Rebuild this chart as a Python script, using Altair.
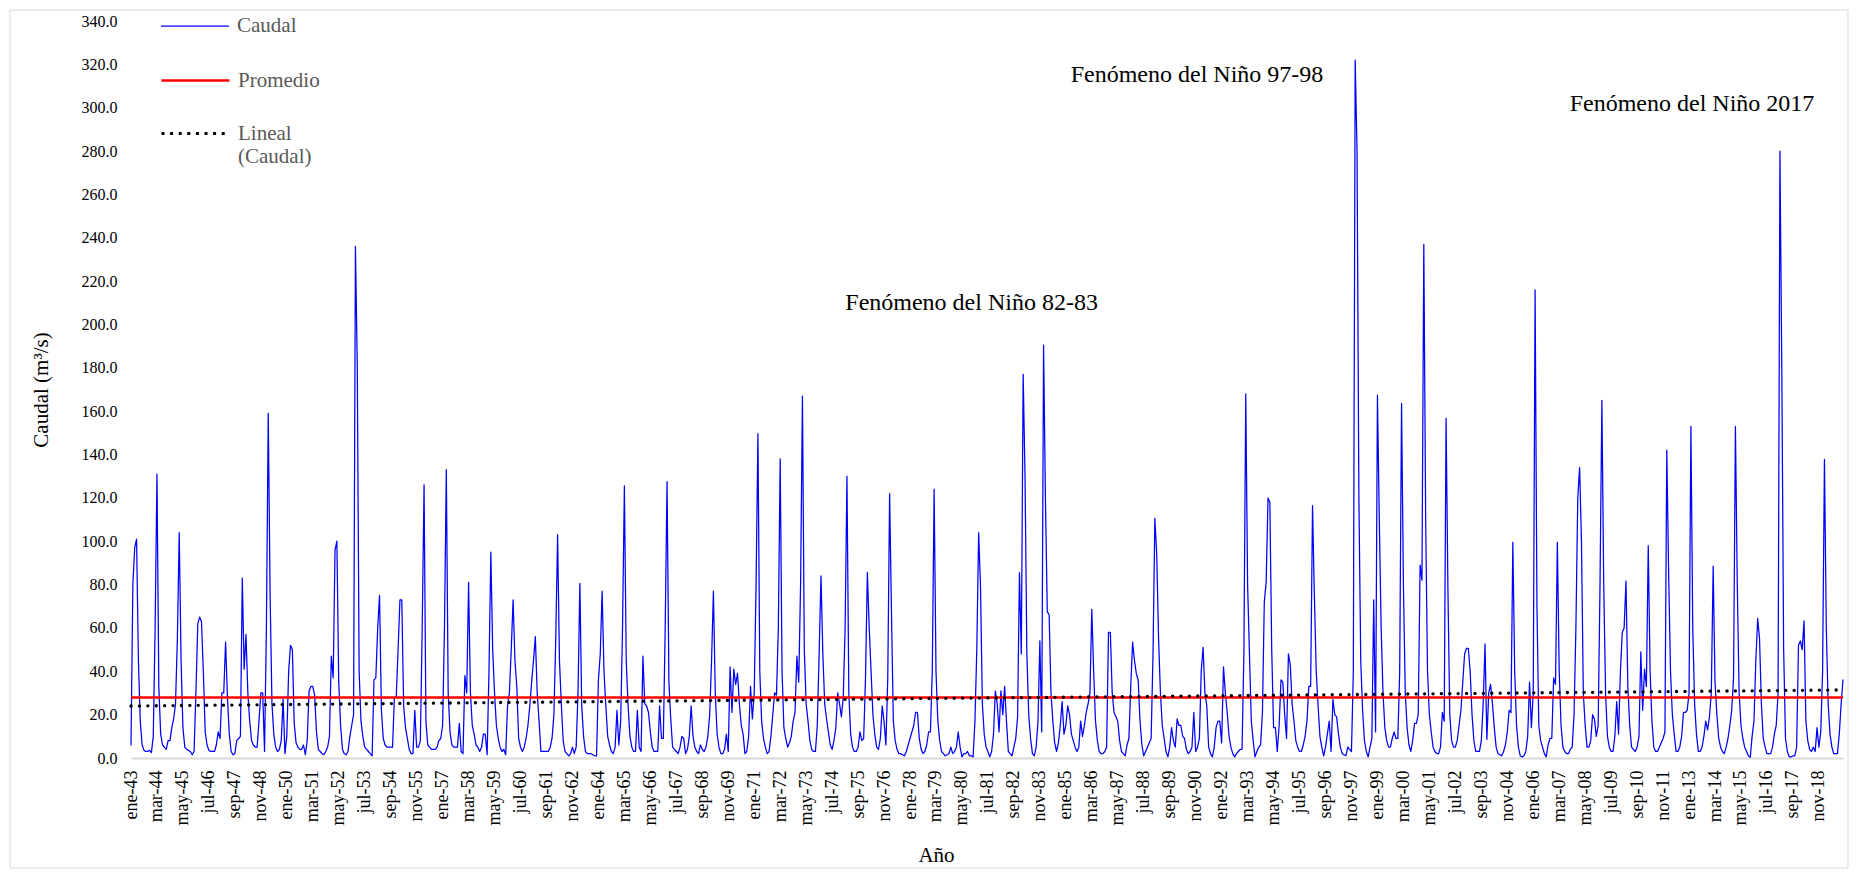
import altair as alt
import pandas as pd

# Caudal mensual (m3/s), un arreglo por año (ene ... dic)
y1943 = [6, 80, 97, 101, 45, 17, 6, 3.5, 3, 3, 3.5, 2.5]
y1944 = [10, 60, 131, 33, 11, 6, 5, 4, 8, 8, 14, 18]
y1945 = [25, 55, 104, 45, 14, 5, 4, 3.5, 3, 1.5, 3, 30]
y1946 = [62, 65, 63, 40, 12, 6, 3.5, 3, 3, 3, 6, 12]
y1947 = [9, 30, 30, 53.5, 28, 11, 3, 1.5, 2, 8, 9, 10]
y1948 = [83, 41, 57, 30, 17, 8, 6, 5, 5, 17, 30, 30]
y1949 = [3, 60, 159, 75, 25, 11, 5, 3, 4, 8, 27, 2]
y1950 = [10, 40, 52, 50, 16, 7, 5, 4, 4, 6, 1.5, 8]
y1951 = [31, 33, 33, 29, 12, 4, 3, 2, 1.5, 3, 5, 10]
y1952 = [47, 37, 96, 100, 35, 15, 4, 2, 1.5, 3, 10, 15]
y1953 = [20, 236, 180, 40, 17, 10, 5, 4, 3, 2, 1, 36]
y1954 = [37, 60, 75, 22, 9, 6, 5, 5, 5, 5, 28, 28]
y1955 = [50, 73, 73, 24, 14, 9, 4, 2, 2, 22, 5, 5]
y1956 = [8, 60, 126, 17, 6, 5, 4, 4, 4, 5, 8, 9]
y1957 = [15, 60, 133, 30, 12, 6, 5, 5, 5, 16, 3, 2]
y1958 = [38, 30, 81, 30, 15, 11, 6, 5, 3, 5, 11, 11]
y1959 = [1.5, 40, 95, 50, 30, 15, 9, 5, 3, 4, 1.5, 24]
y1960 = [30, 50, 73, 45, 33, 9, 5, 3, 5, 9, 15, 24]
y1961 = [35, 45, 56, 30, 17, 3, 3, 3, 3, 3, 5, 9]
y1962 = [20, 55, 103, 45, 25, 8, 3, 2, 1, 2, 5, 2]
y1963 = [5, 30, 80.6, 24, 10, 3, 2, 2, 2, 1.5, 1, 1]
y1964 = [36, 48, 77, 40, 24, 10, 6, 3, 2, 5, 22, 6]
y1965 = [17, 60, 125.5, 45, 24, 10, 5, 3, 3, 22, 5, 3]
y1966 = [47, 25, 24, 21, 12, 5, 3, 3, 3, 24, 9, 9]
y1967 = [60, 127.5, 35, 18, 5, 4, 3, 2, 5, 10, 9, 2]
y1968 = [4, 10, 24, 10, 5, 3, 2, 6, 4, 3, 5, 10]
y1969 = [20, 45, 77, 30, 11, 5, 2, 2, 4, 11, 3, 42]
y1970 = [21, 41, 34, 39, 25, 15, 11, 2, 3, 10, 33, 18]
y1971 = [30, 80, 149.7, 40, 17, 9, 5, 2, 3, 10, 20, 30]
y1972 = [29, 60, 138, 40, 14, 9, 5, 7, 10, 17, 21, 47]
y1973 = [35, 80, 167, 50, 25, 17, 8, 4, 3, 3, 15, 48]
y1974 = [84, 48, 25, 18, 12, 6, 4, 8, 14, 30, 25, 19]
y1975 = [28, 60, 130, 30, 11, 5, 3, 3, 5, 12, 8, 9]
y1976 = [37, 85.6, 60, 40, 20, 11, 5, 4, 9, 24, 17, 6]
y1977 = [37, 122, 67, 17, 8, 4, 2, 2, 1.5, 1, 3, 6]
y1978 = [9, 12, 15, 21, 21, 9, 4, 2, 3, 6, 12, 12]
y1979 = [40, 124, 40, 17, 8, 3, 2, 1, 1.5, 2, 5, 2]
y1980 = [3, 5, 12, 5, 0.5, 2, 2, 3, 1, 1, 0.5, 17]
y1981 = [50, 104, 79, 25, 11, 5, 3, 0.5, 3, 11, 31, 25]
y1982 = [12, 31, 20, 33, 17, 3, 2, 1, 5, 9, 19, 85.5]
y1983 = [48, 177, 130, 48, 20, 9, 2, 1, 5, 17, 54, 12]
y1984 = [190.5, 120, 67.5, 66, 30, 17, 7, 3, 7, 15, 26, 11]
y1985 = [15, 24, 20, 11, 8, 5, 3, 5, 17, 10, 15, 21]
y1986 = [25, 30, 68.6, 40, 17, 8, 3, 2, 2, 3, 5, 58]
y1987 = [58, 30, 21, 19, 17, 8, 3, 2, 1, 6, 9, 33]
y1988 = [53.5, 45, 39, 36, 17, 6, 1, 3, 5, 7, 9, 48]
y1989 = [110.5, 94, 55, 30, 15, 9, 3, 0.5, 5, 14, 8, 5]
y1990 = [18, 15, 15, 10, 9, 4, 2, 3, 5, 21, 3, 5]
y1991 = [9, 40, 51, 30, 24, 5, 2, 0.5, 5, 14, 17, 17]
y1992 = [7, 42, 30, 21, 10, 5, 2, 0.5, 2, 3, 4, 4]
y1993 = [48, 168, 80, 48, 17, 8, 0.5, 3, 5, 6, 21, 72]
y1994 = [81, 120, 118, 50, 14, 14, 3, 15, 36, 35, 20, 9]
y1995 = [48, 43, 25, 17, 8, 5, 3, 3, 6, 10, 17, 33]
y1996 = [33, 116.4, 75, 40, 24, 10, 5, 1, 5, 11, 17, 3]
y1997 = [27, 20, 19, 11, 5, 2, 1.5, 1, 5, 4, 3, 40]
y1998 = [322, 280, 120, 45, 22, 8, 3, 0.5, 5, 9, 73, 12]
y1999 = [167.4, 110, 60, 30, 14, 8, 5, 5, 9, 12, 9, 9]
y2000 = [40, 163.6, 80, 30, 14, 6, 3, 8, 16, 16, 20, 89]
y2001 = [82, 237, 110, 40, 20, 12, 5, 3, 2, 2, 5, 21]
y2002 = [17, 156.7, 78, 20, 8, 5, 5, 8, 15, 22, 35, 48]
y2003 = [50.6, 50.6, 40, 20, 8, 3, 3, 3, 8, 25, 52.6, 8.6]
y2004 = [30, 34, 25, 14, 5, 2, 1.5, 1, 3, 6, 12, 22]
y2005 = [21, 99.5, 40, 15, 5, 1, 0.5, 1, 3, 10, 35, 14]
y2006 = [30, 216, 70, 15, 8, 5, 2, 0.5, 6, 9, 9, 37]
y2007 = [34, 99.5, 40, 15, 5, 3, 2, 2, 4, 5, 20, 60]
y2008 = [120, 134, 100, 30, 15, 5, 5, 8, 20, 18, 10, 15]
y2009 = [80, 165, 80, 30, 10, 5, 3, 3, 10, 26, 11, 40]
y2010 = [58, 60, 81.6, 33, 15, 5, 4, 3, 5, 10, 49, 22]
y2011 = [41, 33, 98, 40, 17, 5, 3, 3, 5, 7, 9, 12]
y2012 = [142, 85, 40, 20, 11, 3, 3, 5, 10, 21, 21, 22]
y2013 = [30, 153, 60, 25, 11, 3, 3, 5, 10, 17, 13, 19]
y2014 = [30, 88.5, 35, 20, 9, 5, 3, 2, 5, 9, 15, 22]
y2015 = [37, 153, 80, 30, 15, 9, 5, 3, 1, 0.3, 10, 17]
y2016 = [45, 64.4, 55, 25, 9, 5, 2, 2, 2, 5, 11, 15]
y2017 = [30, 280, 180, 50, 9, 3, 0.5, 0.5, 1, 1, 5, 52]
y2018 = [54, 50, 63.3, 17, 8, 4, 3, 5, 3, 14, 5, 12]
y2019 = [40, 137.8, 60, 25, 11, 5, 2, 2, 2, 11, 25, 36]

anios = [
    y1943, y1944, y1945, y1946, y1947, y1948, y1949, y1950, y1951, y1952,
    y1953, y1954, y1955, y1956, y1957, y1958, y1959, y1960, y1961, y1962,
    y1963, y1964, y1965, y1966, y1967, y1968, y1969, y1970, y1971, y1972,
    y1973, y1974, y1975, y1976, y1977, y1978, y1979, y1980, y1981, y1982,
    y1983, y1984, y1985, y1986, y1987, y1988, y1989, y1990, y1991, y1992,
    y1993, y1994, y1995, y1996, y1997, y1998, y1999, y2000, y2001, y2002,
    y2003, y2004, y2005, y2006, y2007, y2008, y2009, y2010, y2011, y2012,
    y2013, y2014, y2015, y2016, y2017, y2018, y2019,
]
anio_inicial = 1943

meses = ["ene", "feb", "mar", "abr", "may", "jun", "jul", "ago", "sep", "oct", "nov", "dic"]

# Promedio y recta de tendencia lineal
promedio = [27.9, 27.9]
lineal = [24.0, 31.4]

# Anotaciones
anot_texto = ["Fenómeno del Niño 82-83", "Fenómeno del Niño 97-98", "Fenómeno del Niño 2017"]
anot_mes = [453.2, 574.7, 841.6]
anot_valor = [209.7, 315.0, 301.6]

caudal = [v for anio in anios for v in anio]
n = len(caudal)
indice = list(range(n))

paso_etiqueta = 14
tick_pos = list(range(0, n, paso_etiqueta))
tick_labels = [f"{meses[i % 12]}-{(anio_inicial + i // 12) % 100:02d}" for i in tick_pos]
label_expr = "[" + ",".join(f"'{t}'" for t in tick_labels) + f"][round(datum.value/{paso_etiqueta})]"

df_caudal = pd.DataFrame({"k": indice, "valor": caudal, "serie": "Caudal"})
df_prom = pd.DataFrame({"k": [0, n - 1], "valor": promedio, "serie": "Promedio"})
df_lin = pd.DataFrame({"k": [0, n - 1], "valor": lineal, "serie": "Lineal (Caudal)"})
df_anot = pd.DataFrame({"k": anot_mes, "valor": anot_valor, "texto": anot_texto})

FONT = "Liberation Serif"

x_enc = alt.X(
    "k:Q",
    scale=alt.Scale(domain=[0, n - 1], nice=False, zero=False),
    axis=alt.Axis(
        values=tick_pos, labelExpr=label_expr, labelAngle=270, labelAlign="right",
        labelBaseline="middle", labelPadding=12, labelFont=FONT, labelFontSize=18,
        labelColor="#000000", labelOverlap=False, labelFlush=False, ticks=False,
        grid=False, domain=True, domainColor="#d9d9d9", domainWidth=2,
        title="Año", titleFont=FONT, titleFontSize=21, titleFontWeight="normal",
        titleColor="#000000", titleX=805, titleY=97, titleAlign="center",
        titleBaseline="middle",
    ),
)
y_enc = alt.Y(
    "valor:Q",
    scale=alt.Scale(domain=[0, 340], nice=False, zero=True),
    axis=alt.Axis(
        values=list(range(0, 341, 20)), format=".1f", labelFont=FONT, labelFontSize=16,
        labelColor="#000000", labelPadding=14, ticks=False, domain=False, grid=False,
        title="Caudal (m³/s)", titleFont=FONT, titleFontSize=21, titleFontWeight="normal",
        titleColor="#000000", titleX=-90, titleY=368.5, titleAngle=270,
        titleAlign="center", titleBaseline="middle",
    ),
)


def leyenda(ly, ancho, color, dash=None, expr=None, baseline="middle"):
    kw = dict(
        title=None, orient="none", legendX=29, legendY=ly, symbolType="stroke",
        symbolSize=4624, symbolStrokeWidth=ancho, symbolStrokeColor=color,
        labelFont=FONT, labelFontSize=21, labelColor="#595959", labelOffset=7,
        padding=0, labelLimit=400, labelBaseline=baseline,
    )
    if dash is not None:
        kw["symbolDash"] = dash
    if expr is not None:
        kw["labelExpr"] = expr
    return alt.Legend(**kw)


borde = alt.Chart(pd.DataFrame({"a": [0]})).mark_rect(
    filled=False, stroke="#d9d9d9", strokeWidth=1
).encode(x=alt.value(-121), x2=alt.value(1717), y=alt.value(-11), y2=alt.value(847))

linea_caudal = alt.Chart(df_caudal).mark_line(
    strokeWidth=1.25, strokeJoin="round", strokeCap="round"
).encode(
    x=x_enc, y=y_enc,
    color=alt.Color("serie:N", scale=alt.Scale(domain=["Caudal"], range=["#0000ff"]),
                    legend=leyenda(-30, 1.25, "#0000ff")),
)

linea_prom = alt.Chart(df_prom).mark_line(strokeWidth=2.7).encode(
    x=x_enc, y=y_enc,
    color=alt.Color("serie:N", scale=alt.Scale(domain=["Promedio"], range=["#ff0000"]),
                    legend=leyenda(24, 2.7, "#ff0000")),
)

linea_lin = alt.Chart(df_lin).mark_line(
    strokeWidth=3.3, strokeCap="round", strokeDash=[0.1, 8.3]
).encode(
    x=x_enc, y=y_enc,
    color=alt.Color("serie:N", scale=alt.Scale(domain=["Lineal (Caudal)"], range=["#000000"]),
                    legend=leyenda(77, 3, "#000000", dash=[3, 5.6],
                                   expr="datum.label == 'Lineal (Caudal)' ? ['Lineal', '(Caudal)'] : datum.label")),
)

textos = alt.Chart(df_anot).mark_text(
    font=FONT, fontSize=24, color="#000000", align="center", baseline="middle"
).encode(x=x_enc, y=y_enc, text="texto:N")

chart = alt.layer(borde, linea_caudal, linea_prom, linea_lin, textos).resolve_scale(
    color="independent"
).properties(
    width=1712, height=737,
    autosize=alt.AutoSizeParams(type="none"),
    padding={"left": 123, "top": 13, "right": 7, "bottom": 112},
).configure(font=FONT).configure_view(stroke=None)

chart.save("out.html", embed_options={"renderer": "svg", "actions": False})
